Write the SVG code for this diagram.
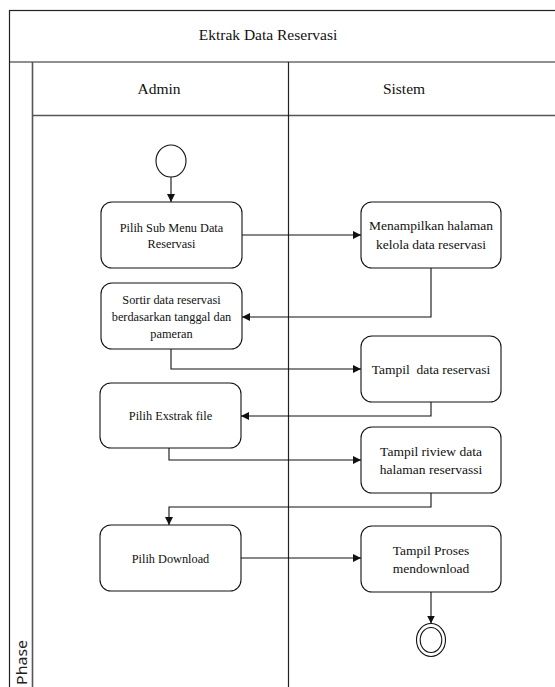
<svg xmlns="http://www.w3.org/2000/svg" width="555" height="687" viewBox="0 0 555 687">
  <style>
    .frame { fill: none; stroke: #222; stroke-width: 1.2; }
    .col { fill: none; stroke: #555; stroke-width: 1.6; }
    .head { font-family: "Liberation Serif", "Times New Roman", serif; font-size: 15.5px; fill: #111; text-anchor: middle; }
    .act { fill: #fff; stroke: #111; stroke-width: 1.1; }
    .ta { font-family: "Liberation Serif", "Times New Roman", serif; font-size: 12.3px; fill: #111; text-anchor: middle; }
    .ts { font-family: "Liberation Serif", "Times New Roman", serif; font-size: 13.5px; fill: #111; text-anchor: middle; }
    .edge { fill: none; stroke: #111; stroke-width: 1.1; }
    .phase { font-family: "Noto Sans", "Open Sans", sans-serif; font-size: 15px; fill: #222; }
  </style>
  <defs>
    <marker id="arrow" viewBox="0 0 10 10" refX="10" refY="5" markerWidth="8" markerHeight="8" markerUnits="userSpaceOnUse" orient="auto">
      <path d="M0,0 L10,5 L0,10 Z" fill="#111"/>
    </marker>
  </defs>
  <rect width="555" height="687" fill="#fff"/>

  <!-- pool and lanes -->
  <g id="pool">
    <rect class="frame" x="9.5" y="10.5" width="560" height="700"/>
    <line class="frame" x1="9.5" y1="62" x2="560" y2="62"/>
    <line class="col" x1="32.5" y1="62" x2="32.5" y2="700"/>
    <line class="col" x1="32.5" y1="115.5" x2="560" y2="115.5"/>
    <line class="frame" x1="288.5" y1="62" x2="288.5" y2="700"/>
    <text class="head" x="268" y="39.5">Ektrak Data Reservasi</text>
    <text class="head" x="159" y="94">Admin</text>
    <text class="head" x="404" y="94">Sistem</text>
    <text class="phase" transform="translate(26.5,685) rotate(-90)" textLength="45" lengthAdjust="spacingAndGlyphs">Phase</text>
  </g>

  <!-- connectors -->
  <g id="connectors">
    <line class="edge" x1="171" y1="177" x2="171" y2="202" marker-end="url(#arrow)"/>
    <line class="edge" x1="242" y1="235" x2="361" y2="235" marker-end="url(#arrow)"/>
    <polyline class="edge" points="431,268 431,317 242,317" marker-end="url(#arrow)"/>
    <polyline class="edge" points="171,349 171,369 361,369" marker-end="url(#arrow)"/>
    <polyline class="edge" points="431,402 431,416 241,416" marker-end="url(#arrow)"/>
    <polyline class="edge" points="169,448 169,460 361,460" marker-end="url(#arrow)"/>
    <polyline class="edge" points="431,493 431,507 169,507 169,525" marker-end="url(#arrow)"/>
    <line class="edge" x1="241" y1="558" x2="361" y2="558" marker-end="url(#arrow)"/>
    <line class="edge" x1="431" y1="592" x2="431" y2="623.5" marker-end="url(#arrow)"/>
  </g>

  <!-- start and end -->
  <g id="start">
    <ellipse class="act" cx="171" cy="161" rx="15" ry="16"/>
  </g>
  <g id="end">
    <ellipse class="act" cx="431" cy="640" rx="14.5" ry="16.5"/>
    <ellipse class="act" cx="431" cy="640" rx="10.8" ry="12.5"/>
  </g>

  <!-- activities -->
  <g id="pilih-sub-menu">
    <rect class="act" x="101" y="202" width="141" height="66" rx="11"/>
    <text class="ta" x="171.5" y="232">Pilih Sub Menu Data</text>
    <text class="ta" x="171.5" y="247.5">Reservasi</text>
  </g>
  <g id="menampilkan-halaman">
    <rect class="act" x="361" y="202" width="140" height="66" rx="11"/>
    <text class="ts" x="431" y="230">Menampilkan halaman</text>
    <text class="ts" x="431" y="248.5">kelola data reservasi</text>
  </g>
  <g id="sortir-data">
    <rect class="act" x="101" y="283" width="141" height="66" rx="11"/>
    <text class="ta" x="171.5" y="303.5">Sortir data reservasi</text>
    <text class="ta" x="171.5" y="320.5">berdasarkan tanggal dan</text>
    <text class="ta" x="171.5" y="337.5">pameran</text>
  </g>
  <g id="tampil-data">
    <rect class="act" x="361" y="336" width="140" height="66" rx="11"/>
    <text class="ts" x="431" y="374" xml:space="preserve">Tampil  data reservasi</text>
  </g>
  <g id="pilih-exstrak">
    <rect class="act" x="100" y="383" width="141" height="65" rx="11"/>
    <text class="ta" x="170.5" y="420">Pilih Exstrak file</text>
  </g>
  <g id="tampil-riview">
    <rect class="act" x="361" y="427" width="140" height="66" rx="11"/>
    <text class="ts" x="431" y="456">Tampil riview data</text>
    <text class="ts" x="431" y="474">halaman reservassi</text>
  </g>
  <g id="pilih-download">
    <rect class="act" x="100" y="525" width="141" height="66" rx="11"/>
    <text class="ta" x="170.5" y="562.5">Pilih Download</text>
  </g>
  <g id="tampil-proses">
    <rect class="act" x="361" y="526" width="140" height="66" rx="11"/>
    <text class="ts" x="431" y="555">Tampil Proses</text>
    <text class="ts" x="431" y="573">mendownload</text>
  </g>
</svg>
